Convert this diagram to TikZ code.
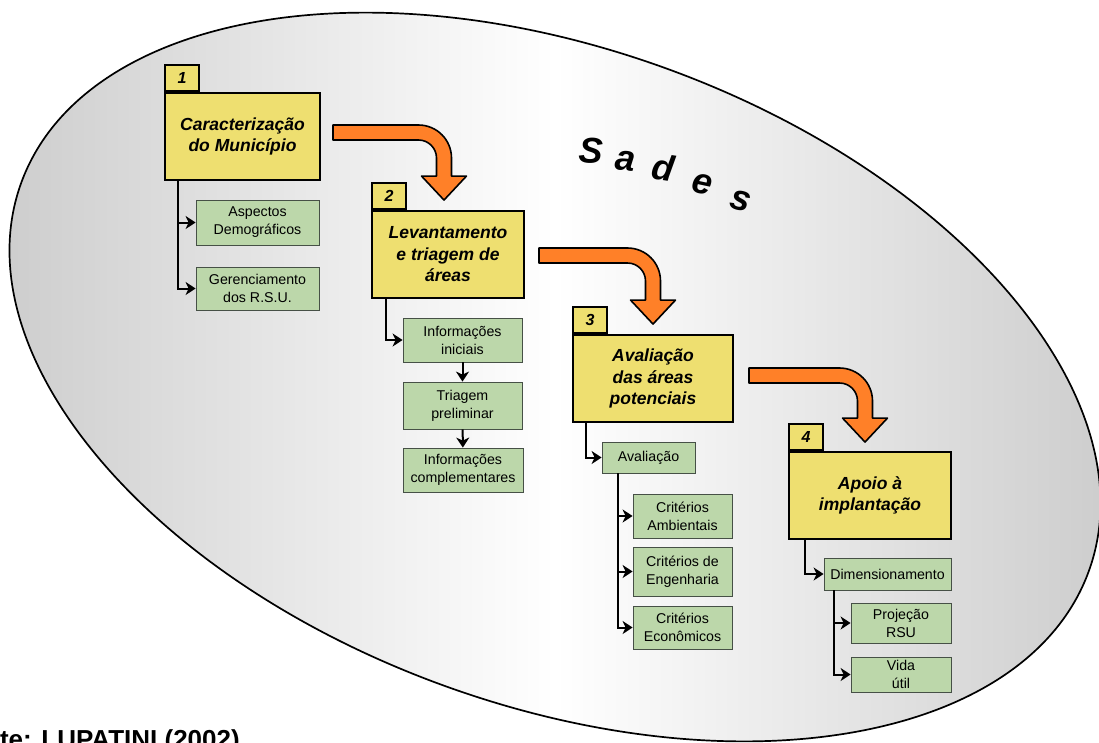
\documentclass[tikz,border=0pt]{standalone}
\usepackage{fontspec}
\setmainfont{Liberation Sans}
\usetikzlibrary{arrows.meta,calc}

\definecolor{boxyellow}{RGB}{238,223,112}
\definecolor{boxgreen}{RGB}{188,215,170}
\definecolor{greenline}{RGB}{70,80,70}
\definecolor{arroworange}{RGB}{255,128,40}
\definecolor{shadegray}{RGB}{172,172,172}

\tikzset{
  stagebox/.style={draw=black, line width=1.9pt, fill=boxyellow, inner sep=0pt,
    align=center, font=\fontsize{17.5}{21.5}\selectfont\bfseries\itshape},
  stagetab/.style={draw=black, line width=1.9pt, fill=boxyellow, inner sep=0pt,
    minimum width=34pt, minimum height=26pt, anchor=south west,
    font=\fontsize{16}{16}\selectfont\bfseries\itshape},
  taskbox/.style={draw=greenline, line width=0.8pt, fill=boxgreen, inner sep=0pt,
    align=center, font=\fontsize{14.2}{18}\selectfont},
  link/.style={line width=2pt, -{Stealth[length=10pt,width=13pt,inset=3pt]}},
  bigarrow/.style={draw=black, line width=1.6pt, fill=arroworange, line join=round},
  letter/.style={font=\fontsize{36}{36}\selectfont\bfseries\itshape, inner sep=0pt, anchor=base west}
}

% bent block arrow: #1 = left end of the shaft (centre line), #2 = tip
\newcommand\bendarrow[2]{%
  \draw[bigarrow] let \p1=(#1), \p2=(#2) in
    (\x1,\y1+7.5pt) -- (\x2+7.5pt-33pt,\y1+7.5pt)
    .. controls (\x2+7.5pt-14.8pt,\y1+7.5pt) and (\x2+7.5pt,\y1+7.5pt-14.8pt) ..
    (\x2+7.5pt,\y1+7.5pt-33pt)
    -- (\x2+7.5pt,\y2+24pt) -- (\x2+22.5pt,\y2+24pt) -- (\x2,\y2)
    -- (\x2-22.5pt,\y2+24pt) -- (\x2-7.5pt,\y2+24pt)
    -- (\x2-7.5pt,\y1-7.5pt-18pt)
    .. controls (\x2-7.5pt,\y1-7.5pt-8.06pt) and (\x2-7.5pt-8.06pt,\y1-7.5pt) ..
    (\x2-7.5pt-18pt,\y1-7.5pt)
    -- (\x1,\y1-7.5pt) -- cycle;}

\begin{document}
\begin{tikzpicture}[x=1pt,y=-1pt]
\useasboundingbox (0,0) rectangle (1099,742);
\begin{scope}
\clip (0,0) rectangle (1099,742);
\fill[white] (0,0) rectangle (1099,742);

% the Sades ellipse, shaded diagonally: grey corners, white middle band
\begin{scope}
  \clip[shift={(555,377)}, rotate=-20] (0,0) ellipse [x radius=568pt, y radius=328pt];
  \begin{scope}[shift={(555,377)}, rotate=-53]
    \shade[left color=shadegray, right color=shadegray, middle color=white]
      (-520,-760) rectangle (520,760);
  \end{scope}
\end{scope}
\draw[line width=1.7pt, shift={(555,377)}, rotate=-20] (0,0) ellipse [x radius=568pt, y radius=328pt];

% title letters
\node[letter, rotate=-3]  (l1) at (578,162) {S};
\node[letter, rotate=-6]  (l2) at (614,169) {a};
\node[letter, rotate=-9]  (l3) at (650,178) {d};
\node[letter, rotate=-12] (l4) at (690,191) {e};
\node[letter, rotate=-15] (l5) at (728,207) {s};

% stages
\node[stagebox, minimum width=155pt, minimum height=87pt] (s1) at (242.5,136.5) {Caracterização\\do Município};
\node[stagetab] (t1) at (s1.north west) {1};
\node[stagebox, minimum width=152pt, minimum height=87pt] (s2) at (448,254.5) {Levantamento\\e triagem de\\áreas};
\node[stagetab] (t2) at (s2.north west) {2};
\node[stagebox, minimum width=160pt, minimum height=87pt] (s3) at (653,378.5) {Avaliação\\das áreas\\potenciais};
\node[stagetab] (t3) at (s3.north west) {3};
\node[stagebox, minimum width=162pt, minimum height=87pt] (s4) at (870,495.5) {Apoio à\\implantação};
\node[stagetab] (t4) at (s4.north west) {4};

% tasks
\node[taskbox, minimum width=123pt, minimum height=45pt] (asp)  at (257.5,222.5) {Aspectos\\Demográficos};
\node[taskbox, minimum width=123pt, minimum height=43pt] (ger)  at (257.5,288.5) {Gerenciamento\\dos R.S.U.};
\node[taskbox, minimum width=119pt, minimum height=44pt] (ini)  at (462.5,340)   {Informações\\iniciais};
\node[taskbox, minimum width=119pt, minimum height=47pt] (tri)  at (462.5,405.5) {Triagem\\preliminar};
\node[taskbox, minimum width=120pt, minimum height=44pt] (comp) at (463,470)     {Informações\\complementares};
\node[taskbox, minimum width=93pt,  minimum height=31pt] (aval) at (648.5,457.5) {Avaliação};
\node[taskbox, minimum width=99pt,  minimum height=44pt] (amb)  at (682.5,516)   {Critérios\\Ambientais};
\node[taskbox, minimum width=99pt,  minimum height=49pt] (eng)  at (682.5,571.5) {Critérios de\\Engenharia};
\node[taskbox, minimum width=99pt,  minimum height=43pt] (eco)  at (682.5,627.5) {Critérios\\Econômicos};
\node[taskbox, minimum width=127pt, minimum height=32pt] (dim)  at (887.5,574)   {Dimensionamento};
\node[taskbox, minimum width=100pt, minimum height=40pt] (proj) at (901,623)     {Projeção\\RSU};
\node[taskbox, minimum width=100pt, minimum height=35pt] (vida) at (901,674.5)   {Vida\\útil};

% tree connectors
\draw[link] ([xshift=14pt]s1.south west) |- (asp.west);
\draw[link] ([xshift=14pt]s1.south west) |- (ger.west);
\draw[link] ([xshift=15pt]s2.south west) |- (ini.west);
\draw[link] (ini) -- (tri);
\draw[link] (tri) -- (comp);
\draw[link] ([xshift=14pt]s3.south west) |- (aval.west);
\draw[link] ([xshift=16pt]aval.south west) |- (amb.west);
\draw[link] ([xshift=16pt]aval.south west) |- (eng.west);
\draw[link] ([xshift=16pt]aval.south west) |- (eco.west);
\draw[link] ([xshift=17pt]s4.south west) |- (dim.west);
\draw[link] ([xshift=10pt]dim.south west) |- (proj.west);
\draw[link] ([xshift=10pt]dim.south west) |- (vida.west);

% flow between stages
\bendarrow{[xshift=12pt,yshift=4pt]s1.east}{[xshift=-4pt,yshift=10pt]s2.north}
\bendarrow{[xshift=14pt,yshift=-1pt]s2.east}{[yshift=10pt]s3.north}
\bendarrow{[xshift=15pt,yshift=3pt]s3.east}{[xshift=-5pt,yshift=9pt]s4.north}

% source line
\node[font=\fontsize{26}{26}\selectfont\bfseries, anchor=base east, inner sep=0pt] (src) at (240,748) {Fonte: LUPATINI (2002)};
\end{scope}
\end{tikzpicture}
\end{document}
